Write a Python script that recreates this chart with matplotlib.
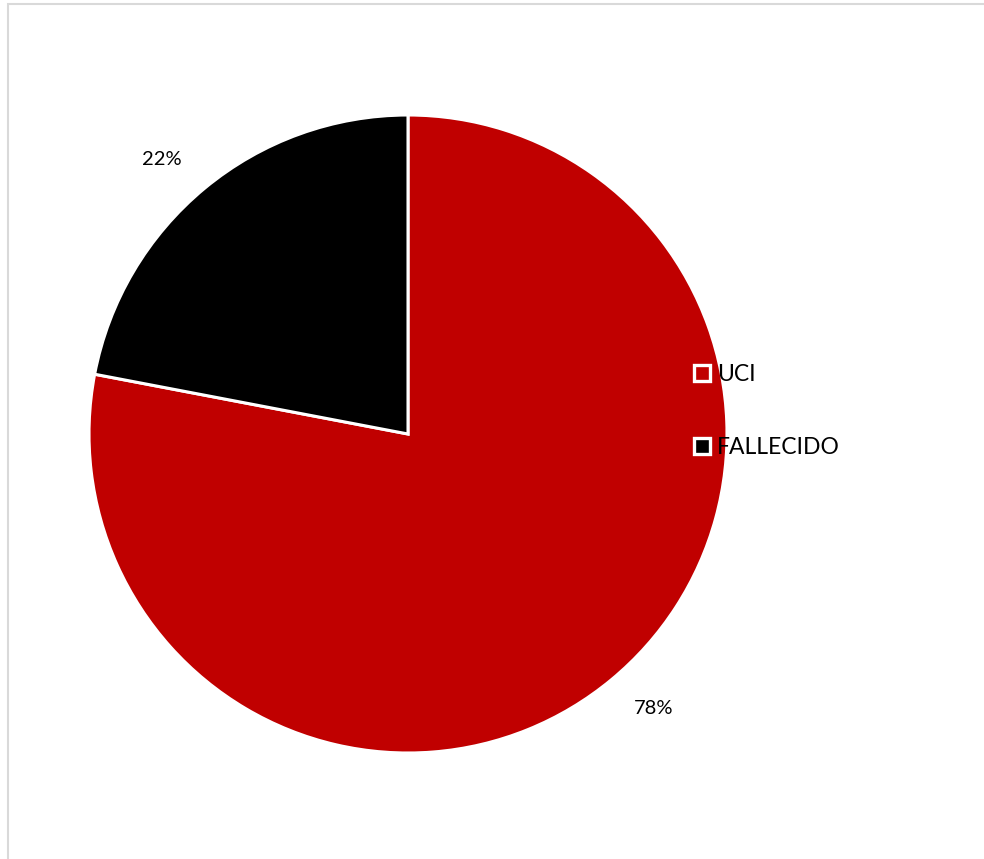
import numpy as np
import matplotlib.pyplot as plt
from matplotlib.lines import Line2D
from matplotlib.patches import Rectangle

labels = ['UCI', 'FALLECIDO']
values = [78, 22]
colors = ['#C00000', '#000000']

plt.rcParams['font.family'] = ['Lato', 'DejaVu Sans']

W, H = 984, 859
fig = plt.figure(figsize=(W / 100, H / 100), dpi=100)

# chart area border (light grey, cut off at right/bottom)
fig.patches.append(Rectangle((8 / W, -0.01), 1.02, 1 - 4 / H + 0.01, transform=fig.transFigure,
                             fill=False, edgecolor='#D9D9D9', linewidth=1.5))

cx, cy, r = 408, 434, 319
ax = fig.add_axes([(cx - r) / W, (H - cy - r) / H, 2 * r / W, 2 * r / H])
wedges, texts, autotexts = ax.pie(values, colors=colors, startangle=90, counterclock=False,
                                  autopct='%1.0f%%', pctdistance=1.155, radius=1,
                                  wedgeprops=dict(edgecolor='white', linewidth=2.2),
                                  textprops=dict(fontsize=14.5, color='black'))
# nudge the percentage labels a little counter-clockwise, as in the original
for w, t in zip(wedges, autotexts):
    ang = np.deg2rad((w.theta1 + w.theta2) / 2 + 2.3)
    t.set_position((1.155 * np.cos(ang), 1.155 * np.sin(ang)))
ax.set_xlim(-1, 1)
ax.set_ylim(-1, 1)
ax.set_aspect('equal')
ax.axis('off')

handles = [Line2D([], [], marker='s', linestyle='none', markersize=11,
                  markerfacecolor=c, markeredgecolor='white', markeredgewidth=2.4)
           for c in colors]
fig.legend(handles, labels, loc='center left', bbox_to_anchor=(684 / W, 1 - 411 / H),
           frameon=False, fontsize=16.5, handlelength=0.6, handletextpad=0.35,
           labelspacing=2.25, borderpad=0)

fig.savefig('out.png', dpi=100)
